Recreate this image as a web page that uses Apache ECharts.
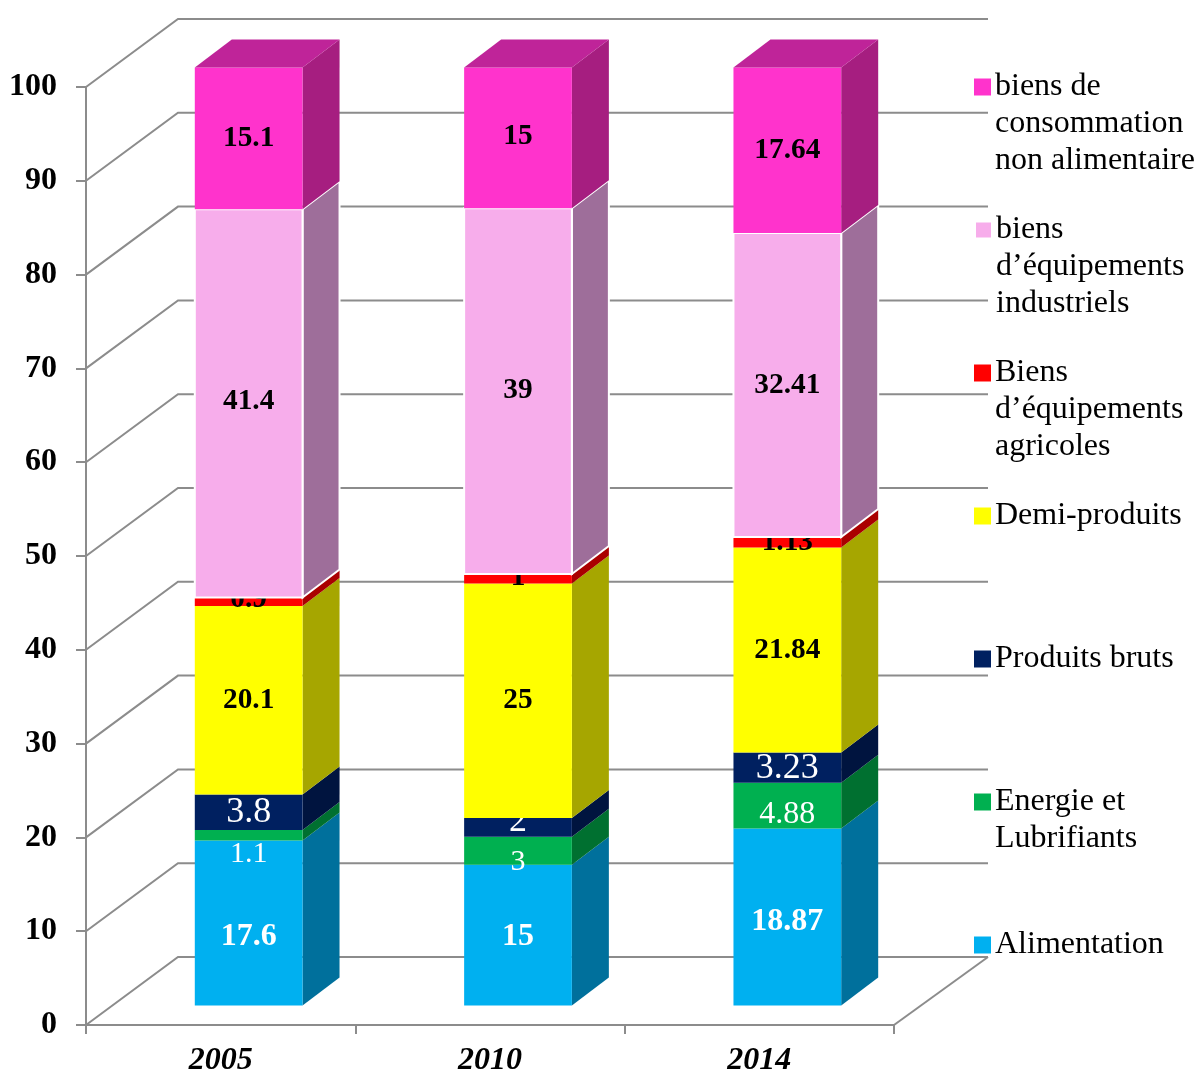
<!DOCTYPE html>
<html>
<head>
<meta charset="utf-8">
<style>html,body{margin:0;padding:0;background:#fff}#chart{width:1201px;height:1077px}</style>
<script src="https://cdn.jsdelivr.net/npm/echarts@6/dist/echarts.min.js"></script>
</head>
<body>
<div id="chart"></div>
<script>
// Share of imports by product group, stacked per year (percent).
const years = ['2005', '2010', '2014'];
const yTicks = [0, 10, 20, 30, 40, 50, 60, 70, 80, 90, 100];

const alimentation = [17.6, 15, 18.87];
const energie = [1.1, 3, 4.88];
const produitsBruts = [3.8, 2, 3.23];
const demiProduits = [20.1, 25, 21.84];
const biensAgricoles = [0.9, 1, 1.13];
const biensIndustriels = [41.4, 39, 32.41];
const biensConsommation = [15.1, 15, 17.64];

const seriesNames = [
  'Alimentation',
  'Energie et\nLubrifiants',
  'Produits bruts',
  'Demi-produits',
  'Biens\nd’équipements\nagricoles',
  'biens\nd’équipements\nindustriels',
  'biens de\nconsommation\nnon alimentaire'
];
const seriesValues = [alimentation, energie, produitsBruts, demiProduits,
  biensAgricoles, biensIndustriels, biensConsommation];

// Face colours of each stacked box.
const frontColors = ['#00B0F0', '#00B050', '#002060', '#FFFF00', '#FF0000', '#F7ADEB', '#FF33CC'];
const sideColors = ['#00709C', '#007030', '#00143F', '#A6A600', '#AA0000', '#9E6E9A', '#A61E80'];
const topColor = '#BF2499';

// Label appearance per series and per year.
const labelColors = ['#fff', '#fff', '#fff', '#000', '#000', '#000', '#000'];
const labelBold = [true, false, false, true, true, true, true];
const labelSizes = [
  [32, 32, 32], [30, 30, 32], [36, 36, 36], [29.33, 29.33, 29.33],
  [29.33, 29.33, 29.33], [29.33, 29.33, 29.33], [29.33, 29.33, 29.33]
];
const labelShifts = [
  [14, 2, 5], [19, 11, 9], [0, -6, 1], [0, 0, 0],
  [-2, -1, 0], [-2, -1, 0], [0, -1, 0]
];

const serif = '"Liberation Serif", "Times New Roman", serif';
const gridColor = '#8C8C8C';

// Oblique projection: wall depth, position of the boxes inside it, box depth.
const wallDx = 92, wallDy = -68;
const boxDx = 28, boxDy = -19.5;
const depthDx = 37, depthDy = -28;
const boxWidthRatio = 0.4;

function renderWall(params, api) {
  const grid = params.coordSys;
  const y = api.coord([0, api.value(0)])[1];
  const left = grid.x, right = grid.x + grid.width;
  const line = { stroke: gridColor, lineWidth: 2, fill: null };
  const children = [{
    type: 'polyline',
    shape: { points: [[left, y], [left + wallDx, y + wallDy], [right + wallDx + 2, y + wallDy]] },
    style: line
  }];
  if (api.value(0) === 0) {
    children.push({
      type: 'line',
      shape: { x1: right, y1: y, x2: right + wallDx + 2, y2: y + wallDy },
      style: line
    });
  }
  return { type: 'group', children };
}

function makeBoxRenderer(s) {
  const edged = s === 5;
  return function (params, api) {
    const yearIndex = api.value(0);
    const value = api.value(2);
    const bottom = api.coord([yearIndex, api.value(1)]);
    const top = api.coord([yearIndex, api.value(1) + value]);
    const w = api.size([1, 0])[0] * boxWidthRatio;
    const x0 = bottom[0] + boxDx - w / 2, x1 = x0 + w;
    const y0 = bottom[1] + boxDy, y1 = top[1] + boxDy;
    const edge = edged ? { stroke: '#fff', lineWidth: 2 } : {};
    const children = [
      {
        type: 'polygon',
        shape: { points: [[x1, y0], [x1 + depthDx, y0 + depthDy], [x1 + depthDx, y1 + depthDy], [x1, y1]] },
        style: Object.assign({ fill: sideColors[s] }, edge)
      },
      {
        type: 'polygon',
        shape: { points: [[x0, y0], [x1, y0], [x1, y1], [x0, y1]] },
        style: Object.assign({ fill: frontColors[s] }, edge)
      }
    ];
    if (s === seriesNames.length - 1) {
      children.push({
        type: 'polygon',
        shape: { points: [[x0, y1], [x1, y1], [x1 + depthDx, y1 + depthDy], [x0 + depthDx, y1 + depthDy]] },
        style: { fill: topColor }
      });
    }
    children.push({
      type: 'text',
      z2: 100,
      style: {
        text: String(value),
        x: (x0 + x1) / 2,
        y: (y0 + y1) / 2 + labelShifts[s][yearIndex],
        align: 'center',
        verticalAlign: 'middle',
        fill: labelColors[s],
        font: (labelBold[s] ? 'bold ' : '') + labelSizes[s][yearIndex] + 'px ' + serif
      }
    });
    return { type: 'group', children };
  };
}

// Cumulative base of each segment, built from the series arrays.
function stackedRows(s) {
  return years.map((_, i) => {
    let base = 0;
    for (let k = 0; k < s; k++) base += seriesValues[k][i];
    return [i, base, seriesValues[s][i]];
  });
}

// One legend block per series so entries sit on a regular 143px pitch,
// with the swatch level with the first line of its text.
const legendCenters = [945, 802, 659, 516, 373, 230, 87];
const legendLineHeight = 37;
const legends = seriesNames.map((name, s) => {
  const lines = name.split('\n').length;
  return {
    data: [name],
    left: 974,
    top: legendCenters[s] - (2 * lines - 1) * legendLineHeight / 2,
    padding: 0,
    itemWidth: 17,
    itemHeight: 17,
    itemGap: 0,
    icon: 'rect',
    selectedMode: false,
    formatter: n => '\n'.repeat(lines - 1) + n,
    textStyle: {
      fontFamily: serif,
      fontSize: 32,
      lineHeight: legendLineHeight,
      color: '#000',
      padding: [0, 0, 0, -1]
    }
  };
});

const chart = echarts.init(document.getElementById('chart'), null, { renderer: 'canvas' });
chart.setOption({
  animation: false,
  backgroundColor: '#fff',
  grid: { left: 86, top: 87, width: 808, height: 941, containLabel: false },
  legend: legends,
  xAxis: {
    type: 'category',
    data: years,
    axisLine: { lineStyle: { color: gridColor, width: 2 } },
    axisTick: { show: true, length: 9, lineStyle: { color: gridColor, width: 2 } },
    axisLabel: {
      margin: 20, color: '#000', fontFamily: serif, fontSize: 32,
      fontWeight: 'bold', fontStyle: 'italic'
    }
  },
  yAxis: {
    type: 'value',
    min: 0,
    max: 100,
    interval: 10,
    splitLine: { show: false },
    axisLine: { show: true, lineStyle: { color: gridColor, width: 2 } },
    axisTick: { show: true, length: 10, lineStyle: { color: gridColor, width: 2 } },
    axisLabel: {
      margin: 29, color: '#000', fontFamily: serif, fontSize: 32, fontWeight: 'bold'
    }
  },
  series: [
    {
      type: 'custom',
      name: 'wall',
      silent: true,
      z: 1,
      renderItem: renderWall,
      data: yTicks.map(t => [t]),
      encode: { y: 0 }
    }
  ].concat(seriesNames.map((name, s) => ({
    type: 'custom',
    name,
    z: 2 + s,
    renderItem: makeBoxRenderer(s),
    itemStyle: Object.assign({ color: frontColors[s] },
      s === 5 ? { borderColor: '#fff', borderWidth: 2 } : {}),
    data: stackedRows(s),
    encode: { x: 0, y: [1, 2] }
  })))
});
</script>
</body>
</html>
